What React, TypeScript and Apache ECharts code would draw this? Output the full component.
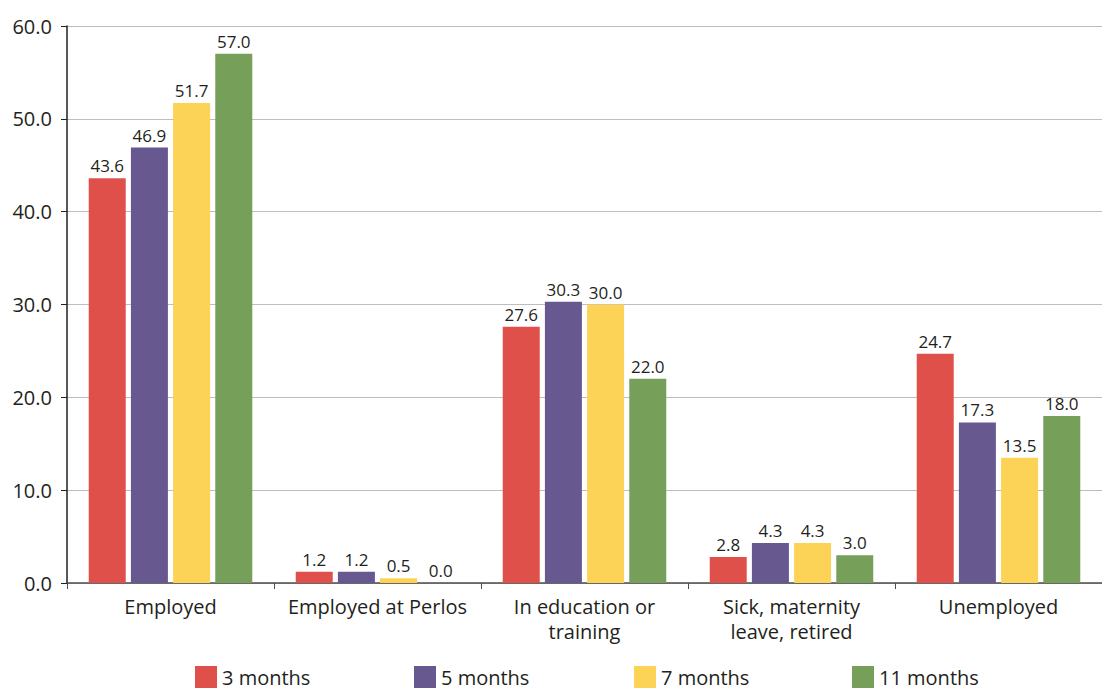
import React, { useEffect, useRef } from "react";
import * as echarts from "echarts";

const categories = [
  "Employed",
  "Employed at Perlos",
  "In education or\ntraining",
  "Sick, maternity\nleave, retired",
  "Unemployed",
];
const seriesNames = ["3 months", "5 months", "7 months", "11 months"];
const m3 = [43.6, 1.2, 27.6, 2.8, 24.7];
const m5 = [46.9, 1.2, 30.3, 4.3, 17.3];
const m7 = [51.7, 0.5, 30.0, 4.3, 13.5];
const m11 = [57.0, 0.0, 22.0, 3.0, 18.0];
const colors = ["#e0504b", "#67588f", "#fdd357", "#76a05a"];
const legendLeft = [190, 409, 629, 847];

const FONT = "'Open Sans', 'Noto Sans', sans-serif";
const TXT = "#231f20";

export default function App() {
  const ref = useRef<HTMLDivElement>(null);
  useEffect(() => {
    if (!ref.current) return;
    const chart = echarts.init(ref.current, undefined, { renderer: "svg" });
    const data = [m3, m5, m7, m11];
    chart.setOption({
      animation: false,
      textStyle: { fontFamily: FONT },
      grid: { left: 67, width: 1040, top: 26, bottom: 106, containLabel: false },
      legend: seriesNames.map((n, i) => ({
        data: [n],
        left: legendLeft[i],
        top: 661,
        itemWidth: 22,
        itemHeight: 22,
        icon: "rect",
        itemGap: 10,
        textStyle: { fontSize: 20, color: TXT, fontFamily: FONT },
      })),
      xAxis: {
        type: "category",
        data: categories,
        axisLine: { lineStyle: { color: "#4d4d4d", width: 1.5 } },
        axisTick: { show: true, length: 6, lineStyle: { color: "#4d4d4d" } },
        axisLabel: {
          fontSize: 20,
          color: TXT,
          margin: 11,
          lineHeight: 25,
          interval: 0,
          fontFamily: FONT,
        },
      },
      yAxis: {
        type: "value",
        min: 0,
        max: 60,
        interval: 10,
        axisLine: { show: true, lineStyle: { color: "#231f20", width: 1.5 } },
        axisTick: { show: true, length: 6, lineStyle: { color: "#231f20" } },
        splitLine: { lineStyle: { color: "#bdbdbd", width: 1 } },
        axisLabel: {
          fontSize: 20,
          color: TXT,
          margin: 15,
          fontFamily: FONT,
          formatter: (v: number) => v.toFixed(1),
        },
      },
      series: seriesNames.map((n, i) => ({
        name: n,
        type: "bar",
        data: data[i],
        barWidth: 37,
        barGap: "14%",
        itemStyle: { color: colors[i] },
        label: {
          show: true,
          position: "top",
          distance: 4,
          fontSize: 17,
          color: TXT,
          fontFamily: FONT,
          formatter: (p: any) => Number(p.value).toFixed(1),
        },
      })),
    });
    return () => chart.dispose();
  }, []);
  return (
    <div
      ref={ref}
      style={{ position: "absolute", left: 0, top: 0, width: 1102, height: 689, background: "#fff" }}
    />
  );
}
